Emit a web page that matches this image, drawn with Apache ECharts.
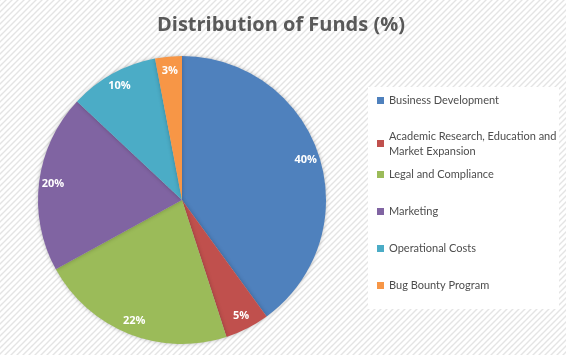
<!DOCTYPE html>
<html><head><meta charset="utf-8">
<script src="https://cdn.jsdelivr.net/npm/echarts@6/dist/echarts.min.js"></script>
<style>html,body{margin:0;padding:0;}#c{width:566px;height:355px;}</style>
</head><body><div id="c"></div>
<script>
const categories = ['Business Development','Academic Research, Education and Market Expansion','Legal and Compliance','Marketing','Operational Costs','Bug Bounty Program'];
const legendLabels = ['Business Development','Academic Research, Education and\nMarket Expansion','Legal and Compliance','Marketing','Operational Costs','Bug Bounty Program'];
const values = [40,5,22,20,10,3];
const colors = ['#4F81BD','#C0504D','#9BBB59','#8064A2','#4BACC6','#F79646'];
const titleText = 'Distribution of Funds (%)';

const pc = document.createElement('canvas');
pc.width = 6; pc.height = 6;
const g = pc.getContext('2d');
g.fillStyle = '#ffffff'; g.fillRect(0,0,6,6);
g.strokeStyle = '#e4e4e4'; g.lineWidth = 1.4;
g.beginPath(); g.moveTo(-1,7); g.lineTo(7,-1); g.moveTo(-1,1); g.lineTo(1,-1); g.moveTo(5,7); g.lineTo(7,5); g.stroke();

const data = categories.map((n,i)=>({name:n, value:values[i], itemStyle:{color:colors[i]}}));
const labelData = categories.map((n,i)=>({name:n, value:values[i], itemStyle:{color:'rgba(0,0,0,0)'}}));
const legendTops = [88, 128, 162, 199, 236, 273];
const legends = categories.map((n,i)=>({
  data:[n], orient:'vertical', left:372, top: legendTops[i] - (i===1?12:0),
  itemWidth:7, itemHeight:7, itemGap:0, icon:'rect',
  formatter: ()=>legendLabels[i],
  textStyle:{fontFamily:'Lato', fontSize:11, color:'#4d4d4d', lineHeight:15, padding: i===1?[15,0,0,0]:0}
}));

const chart = echarts.init(document.getElementById('c'));
chart.setOption({
  backgroundColor:{image:pc, repeat:'repeat'},
  animation:false,
  title:{text:titleText, left:152, top:10, textStyle:{fontFamily:'Open Sans', fontWeight:'bold', fontSize:20, color:'#595959'}},
  graphic:[{type:'rect', shape:{x:368,y:87,width:191,height:222}, style:{fill:'#ffffff'}, z:-1, silent:true}],
  legend: legends,
  series:[
    {type:'pie', center:[182,200], radius:[0,144], startAngle:90, clockwise:true, data:data,
     label:{show:false}, labelLine:{show:false},
     itemStyle:{shadowBlur:4, shadowColor:'rgba(0,0,0,0.25)', borderWidth:0}},
    {type:'pie', center:[182,200], radius:[110,144], startAngle:90, clockwise:true, data:labelData, silent:true,
     labelLine:{show:false}, emphasis:{disabled:true},
     label:{show:true, position:'inside', formatter:'{c}%', color:'#ffffff', fontWeight:'bold', fontSize:11, fontFamily:'Open Sans'}}
  ]
});
</script></body></html>
